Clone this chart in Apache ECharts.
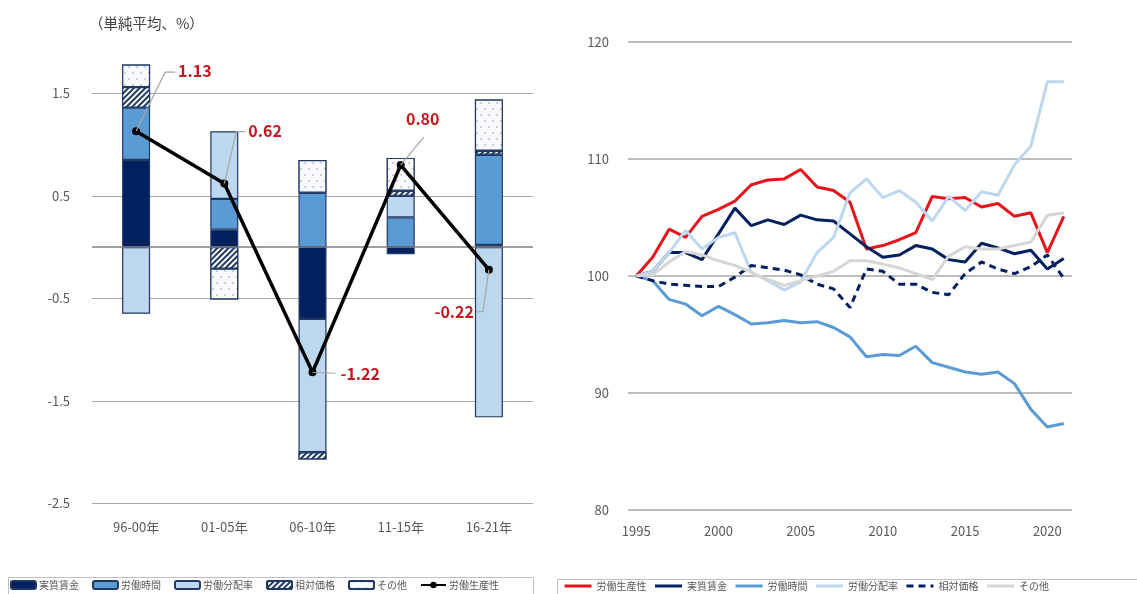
<!DOCTYPE html>
<html>
<head>
<meta charset="utf-8">
<script src="https://cdn.jsdelivr.net/npm/echarts@6/dist/echarts.min.js"></script>
<style>
  html, body { margin: 0; padding: 0; background: #fff; }
  #chart { width: 1137px; height: 594px; }
</style>
</head>
<body>
<div id="chart"></div>
<script>
// ---- Left panel: period averages of the productivity decomposition (%) ----
const periods = ['96-00年', '01-05年', '06-10年', '11-15年', '16-21年'];
const realWageC   = [0.85, 0.17, -0.70, -0.07, 0.02];
const hoursC      = [0.51, 0.30, 0.53, 0.29, 0.88];
const laborShareC = [-0.65, 0.66, -1.30, 0.21, -1.66];
const relPriceC   = [0.20, -0.21, -0.07, 0.05, 0.04];
const otherC      = [0.22, -0.30, 0.32, 0.32, 0.50];
const productivity = [1.13, 0.62, -1.22, 0.80, -0.22];

// ---- Right panel: index levels, 1995 = 100 ----
const years = ['1995', '1996', '1997', '1998', '1999', '2000', '2001', '2002', '2003',
  '2004', '2005', '2006', '2007', '2008', '2009', '2010', '2011', '2012', '2013',
  '2014', '2015', '2016', '2017', '2018', '2019', '2020', '2021'];
const prodIdx  = [100, 101.6, 104.0, 103.3, 105.1, 105.7, 106.4, 107.8, 108.2, 108.3, 109.1, 107.6, 107.3, 106.3,
  102.3, 102.6, 103.1, 103.7, 106.8, 106.6, 106.7, 105.9, 106.2, 105.1, 105.4, 102.0, 105.1];
const wageIdx  = [100, 100.4, 102.0, 102.0, 101.4, 103.6, 105.8, 104.3, 104.8, 104.4, 105.2, 104.8, 104.7, 103.6,
  102.5, 101.6, 101.8, 102.6, 102.3, 101.4, 101.2, 102.8, 102.4, 101.9, 102.2, 100.6, 101.5];
const hoursIdx = [100, 99.6, 98.0, 97.6, 96.6, 97.4, 96.7, 95.9, 96.0, 96.2, 96.0, 96.1, 95.6, 94.8,
  93.1, 93.3, 93.2, 94.0, 92.6, 92.2, 91.8, 91.6, 91.8, 90.8, 88.6, 87.1, 87.4];
const shareIdx = [100, 100.4, 102.0, 103.9, 102.3, 103.3, 103.7, 100.3, 99.6, 98.8, 99.5, 102.0, 103.3, 107.1,
  108.3, 106.7, 107.3, 106.3, 104.7, 106.8, 105.6, 107.2, 106.9, 109.5, 111.1, 116.6, 116.6];
const priceIdx = [100, 99.6, 99.3, 99.2, 99.1, 99.1, 99.9, 100.9, 100.7, 100.5, 100.1, 99.3, 98.9, 97.3,
  100.6, 100.4, 99.3, 99.3, 98.6, 98.4, 100.2, 101.2, 100.6, 100.2, 100.8, 101.8, 99.8];
const otherIdx = [100, 100.1, 101.2, 102.1, 101.8, 101.3, 100.9, 100.3, 99.7, 99.2, 99.6, 100.0, 100.4, 101.3,
  101.3, 101.0, 100.7, 100.2, 99.7, 101.7, 102.5, 102.3, 102.3, 102.6, 102.9, 105.2, 105.4];

// leader-line offsets (px, relative to each productivity point) for the value callouts
const callouts = [
  { pts: [[29, -59], [39, -59]], text: [42, -60], align: 'left' },
  { pts: [[12, -52], [21, -52]], text: [24, -53], align: 'left' },
  { pts: [[23, 1]],              text: [28, 2],   align: 'left' },
  { pts: [[23, -28]],            text: [22, -46], align: 'center' },
  { pts: [[-6, 42], [-12, 42]],  text: [-15, 42], align: 'right' }
];

const FONT = '"Noto Sans CJK JP", "Noto Sans", sans-serif';
const NAVY = '#002060';
const BORDER = '#1F3864';

const chart = echarts.init(document.getElementById('chart'), null, { renderer: 'canvas' });

const barBase = {
  type: 'bar', stack: 'parts', xAxisIndex: 0, yAxisIndex: 0, barWidth: 28,
  emphasis: { disabled: true }
};
const lineBase = {
  type: 'line', xAxisIndex: 1, yAxisIndex: 1, symbol: 'none', smooth: false,
  emphasis: { disabled: true }
};
const stripName = n => n.replace(/^[LR]:/, '');

const option = {
  animation: false,
  textStyle: { fontFamily: FONT },
  title: {
    text: '（単純平均、%）', left: 84, top: 11,
    textStyle: { fontFamily: FONT, fontSize: 14.5, fontWeight: 'normal', color: '#404040' }
  },
  graphic: [
    { type: 'rect', silent: true, shape: { x: 8.5, y: 577.5, width: 525, height: 40 },
      style: { fill: 'none', stroke: '#bfbfbf', lineWidth: 1 } },
    { type: 'rect', silent: true, shape: { x: 557.5, y: 579.5, width: 640, height: 40 },
      style: { fill: 'none', stroke: '#bfbfbf', lineWidth: 1 } }
  ],
  legend: [
    {
      left: 10, top: 580, padding: 0, itemWidth: 25, itemHeight: 8, itemGap: 13,
      formatter: stripName, selectedMode: false,
      textStyle: { fontFamily: FONT, fontSize: 10, color: '#595959', padding: [0, 0, 0, -2] },
      data: ['L:実質賃金', 'L:労働時間', 'L:労働分配率', 'L:相対価格', 'L:その他', 'L:労働生産性']
    },
    {
      left: 563, top: 581, padding: 0, itemWidth: 27, itemHeight: 2, itemGap: 7,
      formatter: stripName, selectedMode: false,
      lineStyle: { width: 3 },
      textStyle: { fontFamily: FONT, fontSize: 10, color: '#595959' },
      data: ['R:労働生産性', 'R:実質賃金', 'R:労働時間', 'R:労働分配率', 'R:相対価格', 'R:その他']
    }
  ],
  grid: [
    { left: 92, top: 42, width: 441, height: 461.5 },
    { left: 628, top: 42, width: 444, height: 468 }
  ],
  xAxis: [
    {
      type: 'category', gridIndex: 0, data: periods,
      axisLine: { show: false, onZero: false }, axisTick: { show: false },
      axisLabel: { fontFamily: FONT, fontSize: 13, color: '#595959', margin: 17 }
    },
    {
      type: 'category', gridIndex: 1, data: years, boundaryGap: true,
      axisLine: { show: false, onZero: false }, axisTick: { show: false },
      axisLabel: { fontFamily: FONT, fontSize: 13, color: '#595959', margin: 15, interval: 4 }
    }
  ],
  yAxis: [
    {
      type: 'value', gridIndex: 0, min: -2.5, max: 2.0, interval: 1,
      axisLine: { show: false }, axisTick: { show: false },
      axisLabel: { fontFamily: FONT, fontSize: 13, color: '#595959', margin: 22, showMaxLabel: false,
        formatter: v => v.toFixed(1) },
      splitLine: { show: true, showMaxLine: false, lineStyle: { color: '#a6a6a6', width: 1 } }
    },
    {
      type: 'value', gridIndex: 1, min: 80, max: 120, interval: 10,
      axisLine: { show: false }, axisTick: { show: false },
      axisLabel: { fontFamily: FONT, fontSize: 13, color: '#595959', margin: 19 },
      splitLine: { show: true, lineStyle: { color: '#a6a6a6', width: 1.5 } }
    }
  ],
  series: [
    Object.assign({}, barBase, {
      name: 'L:実質賃金', data: realWageC,
      itemStyle: { color: NAVY, borderColor: BORDER, borderWidth: 1.2 },
      markLine: {
        silent: true, symbol: 'none', label: { show: false },
        lineStyle: { color: '#7f7f7f', width: 1.5, type: 'solid' },
        data: [{ yAxis: 0 }]
      }
    }),
    Object.assign({}, barBase, {
      name: 'L:労働時間', data: hoursC,
      itemStyle: { color: '#5B9BD5', borderColor: BORDER, borderWidth: 1.2 }
    }),
    Object.assign({}, barBase, {
      name: 'L:労働分配率', data: laborShareC,
      itemStyle: { color: '#BDD7EE', borderColor: BORDER, borderWidth: 1.2 }
    }),
    Object.assign({}, barBase, {
      name: 'L:相対価格', data: relPriceC,
      itemStyle: {
        color: '#ffffff', borderColor: BORDER, borderWidth: 1.2,
        decal: { symbol: 'rect', dashArrayX: [1, 0], dashArrayY: [2, 1.5], rotation: -Math.PI / 4,
          color: '#1F3864', backgroundColor: '#ffffff' }
      }
    }),
    Object.assign({}, barBase, {
      name: 'L:その他', data: otherC,
      itemStyle: {
        color: '#f7f9fc', borderColor: BORDER, borderWidth: 1.2,
        decal: { symbol: 'circle', symbolSize: 0.7, dashArrayX: [[2, 6], [0, 4, 2, 2]], dashArrayY: [2, 4],
          color: '#7f8896', backgroundColor: '#f7f9fc' }
      }
    }),
    {
      name: 'L:労働生産性', type: 'line', xAxisIndex: 0, yAxisIndex: 0, data: productivity,
      symbol: 'circle', symbolSize: 8, z: 5,
      lineStyle: { color: '#000', width: 3.5 },
      itemStyle: { color: '#000' },
      emphasis: { disabled: true }
    },
    {
      name: 'callouts', type: 'custom', xAxisIndex: 0, yAxisIndex: 0, z: 6, silent: true,
      data: productivity.map((v, i) => [i, v]),
      renderItem: function (params, api) {
        const i = params.dataIndex;
        const p = api.coord([api.value(0), api.value(1)]);
        const c = callouts[i];
        const pts = [p].concat(c.pts.map(o => [p[0] + o[0], p[1] + o[1]]));
        return {
          type: 'group',
          children: [
            { type: 'polyline', shape: { points: pts }, style: { stroke: '#a6a6a6', lineWidth: 1.2, fill: null } },
            { type: 'text', x: p[0] + c.text[0], y: p[1] + c.text[1],
              style: { text: api.value(1).toFixed(2), fill: '#C8161D',
                font: 'bold 16px ' + FONT, align: c.align, verticalAlign: 'middle' } }
          ]
        };
      }
    },
    Object.assign({}, lineBase, { name: 'R:労働生産性', data: prodIdx,
      lineStyle: { color: '#E8141B', width: 3 }, itemStyle: { color: '#E8141B' } }),
    Object.assign({}, lineBase, { name: 'R:実質賃金', data: wageIdx,
      lineStyle: { color: NAVY, width: 3 }, itemStyle: { color: NAVY } }),
    Object.assign({}, lineBase, { name: 'R:労働時間', data: hoursIdx,
      lineStyle: { color: '#5B9BD5', width: 3 }, itemStyle: { color: '#5B9BD5' } }),
    Object.assign({}, lineBase, { name: 'R:労働分配率', data: shareIdx,
      lineStyle: { color: '#BDD7EE', width: 3 }, itemStyle: { color: '#BDD7EE' } }),
    Object.assign({}, lineBase, { name: 'R:相対価格', data: priceIdx,
      lineStyle: { color: NAVY, width: 3, type: [7, 5] }, itemStyle: { color: NAVY } }),
    Object.assign({}, lineBase, { name: 'R:その他', data: otherIdx,
      lineStyle: { color: '#d6d6d6', width: 3 }, itemStyle: { color: '#d6d6d6' } })
  ]
};

chart.setOption(option);
</script>
</body>
</html>
